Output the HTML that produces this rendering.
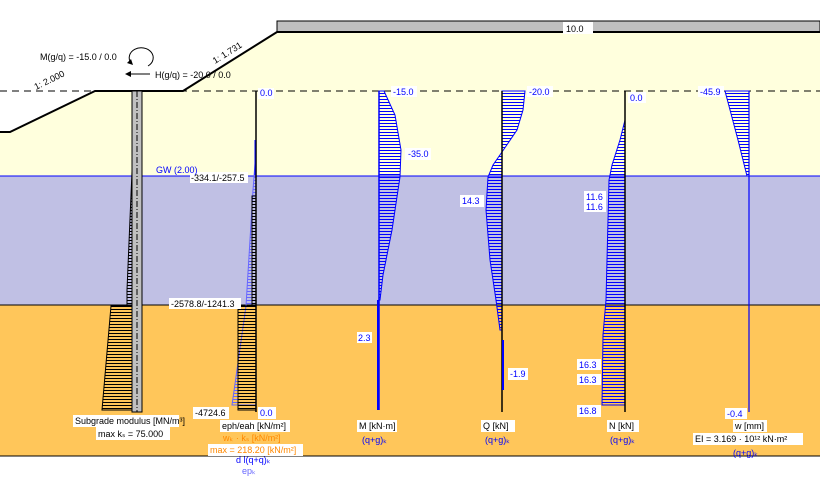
<!DOCTYPE html>
<html><head><meta charset="utf-8"><style>
html,body{margin:0;padding:0;background:#fff;width:820px;height:488px;overflow:hidden}
svg{display:block}
text{font-family:"Liberation Sans",sans-serif;font-size:9px}
</style></head><body>
<svg width="820" height="488" viewBox="0 0 820 488" xmlns="http://www.w3.org/2000/svg">
<defs>
<pattern id="hb" width="4" height="3" patternUnits="userSpaceOnUse"><line x1="0" y1="0.5" x2="4" y2="0.5" stroke="#0000ff" stroke-width="1"/></pattern>
<pattern id="hk" width="4" height="3" patternUnits="userSpaceOnUse"><line x1="0" y1="0.5" x2="4" y2="0.5" stroke="#000" stroke-width="1"/></pattern>
<pattern id="hl" width="4" height="3" patternUnits="userSpaceOnUse"><line x1="0" y1="0.5" x2="4" y2="0.5" stroke="#6666ff" stroke-width="1"/></pattern>
</defs>
<polygon points="0,132 10,132 95,91 183,91 277,32 820,32 820,176 0,176" fill="#ffffdd"/>
<rect x="0" y="176" width="820" height="129" fill="#c0c0e4"/>
<rect x="0" y="305" width="820" height="151" fill="#ffc65a"/>
<line x1="0" y1="176" x2="820" y2="176" stroke="#0000ff"/>
<line x1="0" y1="305" x2="820" y2="305" stroke="#000"/>
<line x1="0" y1="456" x2="820" y2="456" stroke="#000"/>
<rect x="277" y="21" width="543" height="11" fill="#c0c0c0" stroke="#000"/>
<polyline points="0,132 10,132 95,91 183,91 277,32 820,32" fill="none" stroke="#000" stroke-width="2"/>
<line x1="0" y1="91" x2="820" y2="91" stroke="#000" stroke-dasharray="7,5"/>
<rect x="563" y="22" width="30" height="12" fill="#fff"/><text x="566" y="32" font-size="10">10.0</text>
<text x="36" y="90" transform="rotate(-26 36 90)" font-size="8">1: 2.000</text>
<text x="215" y="64" transform="rotate(-32 215 64)" font-size="8">1: 1.731</text>
<text x="40" y="60">M(g/q) = -15.0 / 0.0</text>
<text x="155" y="78">H(g/q) = -20.0 / 0.0</text>
<path d="M131,63 A12,10 0 1,1 148,66" fill="none" stroke="#000"/>
<polygon points="127,63 131,59 133,65" fill="#000"/>
<line x1="128" y1="74" x2="150" y2="74" stroke="#000"/><polygon points="125,74 131,71 131,77" fill="#000"/>
<polygon points="132,100 135,100 127,290 127,305 132,305" fill="url(#hk)" stroke="#000"/>
<polygon points="132,306 111,306 102,410 132,410" fill="url(#hk)" stroke="#000"/>
<rect x="132" y="91" width="10" height="321" fill="#c0c0c0" stroke="#000"/>
<line x1="137" y1="91" x2="137" y2="412" stroke="#000" stroke-dasharray="6,2,1,2"/>
<polygon points="256,150 253,190 246,306 232,405 256,405" fill="url(#hl)" stroke="#6666ff"/>
<rect x="252" y="196" width="4" height="110" fill="url(#hk)" stroke="#000"/>
<rect x="238" y="306" width="18" height="104" fill="url(#hk)" stroke="#000"/>
<line x1="256" y1="91" x2="256" y2="412" stroke="#000" stroke-width="1.5"/>
<line x1="255" y1="140" x2="255" y2="175" stroke="#0000ff"/>
<polygon points="379,91 384,91 395,115 401,150 400,177 392,230 383,275 380,300 379,300" fill="url(#hb)" stroke="#0000ff"/>
<line x1="379" y1="91" x2="379" y2="410" stroke="#0000ff" stroke-width="1.5"/>
<line x1="378" y1="300" x2="378" y2="410" stroke="#0000ff" stroke-width="2"/>
<polygon points="502,91 525,91 523,110 517,130 502,152 493,165 488,177 486,210 490,260 496,300 500,330 502,330" fill="url(#hb)" stroke="#0000ff"/>
<line x1="502" y1="91" x2="502" y2="412" stroke="#000" stroke-width="1.5"/>
<line x1="503" y1="340" x2="503" y2="390" stroke="#0000ff" stroke-width="2"/>
<polygon points="625,91 625,120 620,140 612,165 609,180 606,300 603,335 602,405 625,405" fill="url(#hb)" stroke="#0000ff"/>
<line x1="625" y1="91" x2="625" y2="412" stroke="#000" stroke-width="1.5"/>
<polygon points="725,91 749,91 749,176 747,176 738,140" fill="url(#hb)" stroke="#0000ff"/>
<line x1="749" y1="91" x2="749" y2="412" stroke="#0000ff" stroke-width="1.2"/>
<g fill="#fff">
<rect x="258" y="88" width="16" height="11"/><rect x="391" y="86" width="26" height="11"/>
<rect x="405" y="148" width="26" height="12"/><rect x="527" y="86" width="26" height="11"/>
<rect x="628" y="92" width="18" height="11"/><rect x="698" y="86" width="26" height="11"/>
<rect x="190" y="172" width="58" height="11"/><rect x="460" y="195" width="24" height="12"/>
<rect x="584" y="191" width="22" height="21"/><rect x="169" y="298" width="72" height="11"/>
<rect x="357" y="332" width="15" height="11"/><rect x="508" y="368" width="20" height="12"/>
<rect x="577" y="359" width="24" height="11"/><rect x="577" y="374" width="24" height="11"/>
<rect x="577" y="405" width="24" height="12"/><rect x="725" y="408" width="22" height="11"/>
<rect x="193" y="407" width="36" height="12"/><rect x="258" y="407" width="18" height="12"/>
<rect x="73" y="415" width="106" height="12"/><rect x="96" y="427" width="74" height="13"/>
<rect x="220" y="420" width="70" height="12"/><rect x="208" y="444" width="95" height="12"/>
<rect x="357" y="420" width="40" height="12"/><rect x="481" y="420" width="34" height="12"/>
<rect x="607" y="420" width="32" height="12"/><rect x="733" y="420" width="34" height="12"/>
<rect x="693" y="433" width="110" height="12"/>
</g>
<g fill="#0000ff">
<text x="260" y="96">0.0</text><text x="393" y="95">-15.0</text><text x="408" y="157">-35.0</text>
<text x="529" y="95">-20.0</text><text x="630" y="101">0.0</text><text x="700" y="95">-45.9</text>
<text x="462" y="204">14.3</text><text x="586" y="200">11.6</text><text x="586" y="210">11.6</text>
<text x="358" y="341">2.3</text><text x="510" y="377">-1.9</text>
<text x="579" y="368">16.3</text><text x="579" y="383">16.3</text><text x="579" y="414">16.8</text>
<text x="727" y="417">-0.4</text><text x="260" y="416">0.0</text>
<text x="156" y="173">GW (2.00)</text>
<text x="362" y="443">(q+g)ₖ</text><text x="485" y="443">(q+g)ₖ</text><text x="610" y="443">(q+g)ₖ</text><text x="733" y="456">(q+g)ₖ</text>
<text x="236" y="463">d l(q+q)ₖ</text>
</g>
<text x="191" y="181">-334.1/-257.5</text><text x="171" y="307">-2578.8/-1241.3</text>
<text x="195" y="416">-4724.6</text>
<text x="75" y="424">Subgrade modulus [MN/m³]</text><text x="98" y="437">max kₛ = 75.000</text>
<text x="222" y="429">eph/eah [kN/m²]</text>
<text x="359" y="429">M [kN·m]</text><text x="483" y="429">Q [kN]</text><text x="609" y="429">N [kN]</text>
<text x="735" y="429">w [mm]</text><text x="695" y="442">EI = 3.169 · 10¹² kN·m²</text>
<g fill="#ff8800"><text x="223" y="441">wₖ · kₛ [kN/m²]</text><text x="210" y="453">max = 218.20 [kN/m²]</text></g>
<text x="242" y="474" fill="#6666ff">epₖ</text>
</svg>
</body></html>
